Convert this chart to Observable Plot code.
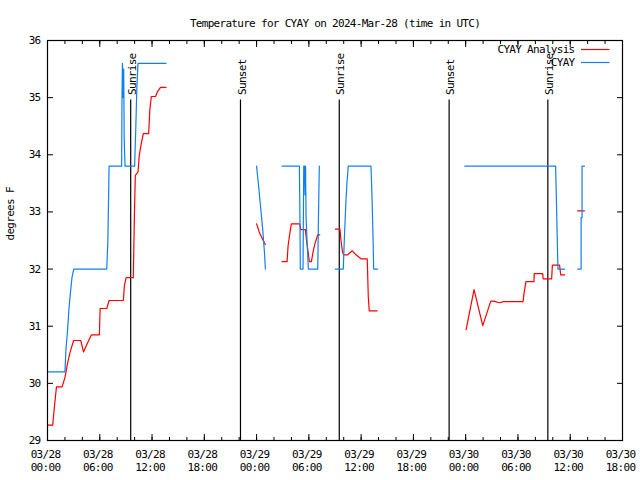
<!DOCTYPE html>
<html><head><meta charset="utf-8">
<script src="https://cdn.jsdelivr.net/npm/d3@7"></script>
<script src="https://cdn.jsdelivr.net/npm/@observablehq/plot@0.6"></script>
<style>
body{margin:0;background:#fff}
svg{display:block}
svg text{letter-spacing:-0.7px}
</style>
</head><body><div id="chart"></div>
<script>
// ---- data (time = hours since 2024-03-28 00:00 UTC; null = gap) ----
const startTime = Date.UTC(2024, 2, 28, 0, 0);
const titleText = "Temperature for CYAY on 2024-Mar-28 (time in UTC)";
const yLabel = "degrees F";
const seriesNames = ["CYAY Analysis", "CYAY"];
const seriesColors = ["#ff0000", "#1080f0"];

const analysisHours = [
  0, 0.6, 0.8, 1.03, 1.68, 2.0, 2.3, 2.6, 3.0, 3.82, 4.13, 4.58, 5.04, 5.96, 6.04, 6.8, 7.07, 8.71, 8.82, 9.02,
  9.85, 9.97, 10.08, 10.39, 10.54, 10.77, 11.0, 11.61, 11.75, 11.92, 12.41, 12.6, 12.98, 13.6, null,
  24.0, 24.3, 24.6, 25.0, null,
  26.93, 27.5, 27.61, 27.79, 27.99, 28.96, 29.07, 29.6, 29.73, 29.91, 30.06, 30.29, 30.48, 30.71, 31.02, 31.25, null,
  33.04, 33.57, 33.69, 33.86, 34.0, 34.46, 34.98, 35.41, 35.98, 36.7, 36.82, 36.93, 37.85, null,
  48.05, 48.96, 49.96, 50.88, 51.22, 51.87, 52.37, 54.58, 54.72, 54.92, 55.84, 55.86, 56.84, 56.89, 57.87, 57.95,
  58.78, 58.9, 59.36, null,
  60.85, 61.64
];
const analysisTemps = [
  29.27, 29.27, 29.6, 29.94, 29.94, 30.1, 30.35, 30.55, 30.75, 30.75, 30.55, 30.7, 30.85, 30.85, 31.31, 31.31, 31.45, 31.45, 31.7, 31.85,
  31.85, 32.9, 33.64, 33.7, 34.0, 34.2, 34.37, 34.37, 34.8, 35.02, 35.02, 35.1, 35.18, 35.18, null,
  32.79, 32.65, 32.55, 32.43, null,
  32.13, 32.13, 32.4, 32.6, 32.79, 32.79, 32.69, 32.69, 32.5, 32.3, 32.13, 32.13, 32.3, 32.45, 32.6, 32.6, null,
  32.7, 32.7, 32.5, 32.3, 32.25, 32.25, 32.32, 32.25, 32.18, 32.18, 31.52, 31.27, 31.27, null,
  30.94, 31.64, 31.01, 31.44, 31.44, 31.41, 31.43, 31.43, 31.6, 31.78, 31.78, 31.92, 31.92, 31.83, 31.83, 32.07,
  32.07, 31.9, 31.9, null,
  33.02, 33.02
];

const cyayHours = [
  0, 2.0, 2.12, 2.29, 2.46, 2.64, 2.81, 3.01, 6.8, 6.93, 7.07, 8.51, 8.55, 8.6, 8.68, 8.75, 8.8, 8.9,
  10.0, 10.14, 10.26, 10.39, 13.6, null,
  24.0, 24.2, 24.45, 24.7, 24.9, 25.01, null,
  26.93, 28.91, 28.97, 29.02, 29.33, 29.41, 29.5, 29.56, 29.62, 29.68, 29.79, 29.94, 31.02, 31.09, 31.2, null,
  33.04, 33.95, 34.09, 34.26, 34.37, 34.52, 37.13, 37.24, 37.36, 37.44, 37.89, null,
  47.9, 58.32, 58.4, 58.5, 58.59, 59.36, null,
  60.85, 61.25, 61.25, 61.36, 61.36, 61.64
];
const cyayTemps = [
  30.2, 30.2, 30.6, 30.9, 31.3, 31.6, 31.85, 32.0, 32.0, 32.5, 33.8, 33.8, 35.0, 35.6, 35.0, 35.5, 34.3, 33.8,
  33.8, 34.5, 35.2, 35.6, 35.6, null,
  33.8, 33.5, 33.1, 32.7, 32.3, 32.0, null,
  33.8, 33.8, 33.0, 32.0, 32.0, 33.8, 33.8, 33.3, 33.8, 32.9, 32.5, 32.0, 32.0, 32.8, 33.8, null,
  32.0, 32.0, 32.6, 33.2, 33.5, 33.8, 33.8, 33.3, 32.6, 32.0, 32.0, null,
  33.8, 33.8, 33.3, 32.6, 32.0, 32.0, null,
  32.0, 32.0, 32.9, 32.9, 33.8, 33.8
];

const sunHours = [9.55, 22.15, 33.49, 46.1, 57.43];
const sunLabels = ["Sunrise", "Sunset", "Sunrise", "Sunset", "Sunrise"];
const sunLineBottom = 29;
const sunLineTop = 34.96;

const xDomainHours = [0, 66];
const xTickHours = [0, 6, 12, 18, 24, 30, 36, 42, 48, 54, 60, 66];
const xTickLabels = ["03/28\n00:00", "03/28\n06:00", "03/28\n12:00", "03/28\n18:00",
                     "03/29\n00:00", "03/29\n06:00", "03/29\n12:00", "03/29\n18:00",
                     "03/30\n00:00", "03/30\n06:00", "03/30\n12:00", "03/30\n18:00"];
const xMinorStep = 2;
const yTicks = [29, 30, 31, 32, 33, 34, 35, 36];

// ---- build ----
const toDate = h => h == null ? null : new Date(startTime + h * 3600e3);
const analysis = analysisHours.map((h, i) => ({t: toDate(h), v: analysisTemps[i]}));
const cyay = cyayHours.map((h, i) => ({t: toDate(h), v: cyayTemps[i]}));
const sun = sunHours.map((h, i) => ({t: toDate(h), label: sunLabels[i]}));
const majorTicks = xTickHours.map(toDate);
const minorTicks = d3.range(xDomainHours[0], xDomainHours[1] + 0.001, xMinorStep).map(toDate);
const labelOf = new Map(majorTicks.map((d, i) => [+d, xTickLabels[i]]));

const chart = Plot.plot({
  width: 640, height: 480,
  marginLeft: 47, marginRight: 18, marginTop: 40, marginBottom: 40,
  style: {fontFamily: "'DejaVu Sans Mono', monospace", fontSize: "11px", background: "#fff", color: "#000"},
  x: {type: "utc", domain: xDomainHours.map(toDate)},
  y: {domain: [yTicks[0], yTicks[yTicks.length - 1]]},
  marks: [
    Plot.axisY({anchor: "left", ticks: yTicks, tickSize: 6, dx: 6, text: null, label: null}),
    Plot.axisY({anchor: "right", ticks: yTicks, tickSize: 6, dx: -6, text: null, label: null}),
    Plot.axisY({anchor: "left", ticks: yTicks, tickSize: 0, tickPadding: 7, tickFormat: d => String(d), label: null}),
    Plot.axisX({anchor: "bottom", ticks: minorTicks, tickSize: 3, dy: -3, text: null, label: null}),
    Plot.axisX({anchor: "top", ticks: minorTicks, tickSize: 3, dy: 3, text: null, label: null}),
    Plot.axisX({anchor: "bottom", ticks: majorTicks, tickSize: 6, dy: -6, text: null, label: null}),
    Plot.axisX({anchor: "top", ticks: majorTicks, tickSize: 6, dy: 6, text: null, label: null}),
    Plot.axisX({anchor: "bottom", ticks: majorTicks, tickSize: 0, tickPadding: 8, lineHeight: 1.2, dx: -2,
                tickFormat: d => labelOf.get(+d), label: null}),
    Plot.ruleX(sun, {x: "t", y1: sunLineBottom, y2: sunLineTop, stroke: "#000", strokeWidth: 1.2}),
    Plot.text(sun, {x: "t", y: sunLineTop, text: "label", rotate: -90, textAnchor: "start", dx: 1.5, dy: -5, fill: "#000"}),
    Plot.line(analysis, {x: "t", y: "v", stroke: seriesColors[0], strokeWidth: 1.2}),
    Plot.line(cyay, {x: "t", y: "v", stroke: seriesColors[1], strokeWidth: 1.2}),
    Plot.frame({stroke: "#000", strokeWidth: 1.2}),
    Plot.text([titleText], {frameAnchor: "top", dy: -21, fill: "#000"}),
    Plot.text([yLabel], {frameAnchor: "left", rotate: -90, dx: -37, fill: "#000"})
  ]
});

// legend (top-right inside the frame)
const svgSel = d3.select(chart);
const frameRight = 640 - 18, frameTop = 40;
const lg = svgSel.append("g").attr("font-family", "'DejaVu Sans Mono', monospace").attr("font-size", 11);
seriesNames.forEach((name, i) => {
  const yy = frameTop + 10 + i * 13;
  lg.append("text").attr("x", frameRight - 47.5).attr("y", yy).attr("text-anchor", "end")
    .attr("dominant-baseline", "middle").attr("fill", "#000").text(name);
  lg.append("line").attr("x1", frameRight - 41).attr("x2", frameRight - 12.5).attr("y1", yy - 0.5).attr("y2", yy - 0.5)
    .attr("stroke", seriesColors[i]).attr("stroke-width", 1.2);
});

document.getElementById("chart").appendChild(chart);
</script>
</body></html>
